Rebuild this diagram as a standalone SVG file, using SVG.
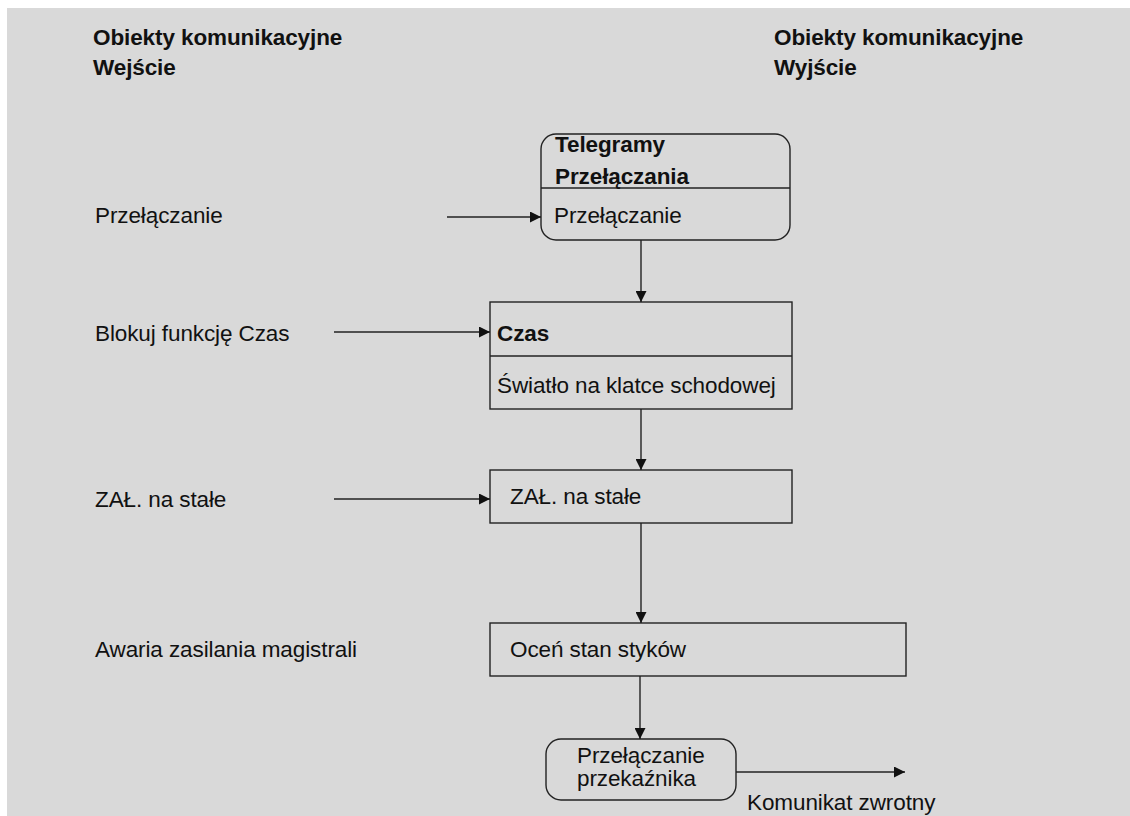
<svg xmlns="http://www.w3.org/2000/svg" width="1130" height="816" viewBox="0 0 1130 816">
<defs>
<marker id="ah" viewBox="0 0 10 10" refX="10" refY="5" markerWidth="11" markerHeight="11" markerUnits="userSpaceOnUse" orient="auto">
<path d="M0,0 L10,5 L0,10 Z" fill="#111"/>
</marker>
<style>
text{font-family:"Liberation Sans",Arial,Helvetica,sans-serif;font-size:22.5px;fill:#111;letter-spacing:-0.1px}
.b{font-weight:bold}
.box{fill:none;stroke:#222;stroke-width:1.4}
.c{fill:none;stroke:#222;stroke-width:1.4;marker-end:url(#ah)}
</style>
</defs>
<rect x="7" y="8" width="1123" height="808" fill="#d9d9d9"/>
<g id="header-in">
<text class="b" x="93" y="45">Obiekty komunikacyjne</text>
<text class="b" x="93" y="75">Wejście</text>
</g>
<g id="header-out">
<text class="b" x="774" y="45">Obiekty komunikacyjne</text>
<text class="b" x="774" y="75">Wyjście</text>
</g>
<g id="in-przelaczanie"><text x="95" y="223">Przełączanie</text></g>
<g id="in-blokuj"><text x="95" y="341">Blokuj funkcję Czas</text></g>
<g id="in-zal"><text x="95" y="507">ZAŁ. na stałe</text></g>
<g id="in-awaria"><text x="95" y="657">Awaria zasilania magistrali</text></g>
<g id="node-telegramy">
<rect class="box" x="541" y="134" width="249" height="106" rx="15" ry="15"/>
<line class="box" x1="541" y1="188" x2="790" y2="188"/>
<text class="b" x="555" y="152">Telegramy</text>
<text class="b" x="555" y="184">Przełączania</text>
<text x="554" y="223">Przełączanie</text>
</g>
<g id="node-czas">
<rect class="box" x="490" y="302" width="302" height="107"/>
<line class="box" x1="490" y1="356" x2="792" y2="356"/>
<text class="b" x="497" y="341">Czas</text>
<text x="497" y="393">Światło na klatce schodowej</text>
</g>
<g id="node-zal">
<rect class="box" x="490" y="470" width="302" height="53"/>
<text x="510" y="504">ZAŁ. na stałe</text>
</g>
<g id="node-ocen">
<rect class="box" x="490" y="623" width="416" height="53"/>
<text x="510" y="657">Oceń stan styków</text>
</g>
<g id="node-przekaznik">
<rect class="box" x="546" y="739" width="190" height="61" rx="15" ry="15"/>
<text x="577" y="763">Przełączanie</text>
<text x="577" y="786">przekaźnika</text>
</g>
<g id="out-komunikat"><text x="747" y="810">Komunikat zwrotny</text></g>
<g id="connectors">
<line class="c" x1="447" y1="217" x2="541" y2="217"/>
<line class="c" x1="334" y1="332" x2="490" y2="332"/>
<line class="c" x1="334" y1="499" x2="490" y2="499"/>
<line class="c" x1="641" y1="240" x2="641" y2="302"/>
<line class="c" x1="641" y1="409" x2="641" y2="470"/>
<line class="c" x1="641" y1="523" x2="641" y2="623"/>
<line class="c" x1="640" y1="676" x2="640" y2="739"/>
<line class="c" x1="736" y1="772" x2="905" y2="772"/>
</g>
</svg>
